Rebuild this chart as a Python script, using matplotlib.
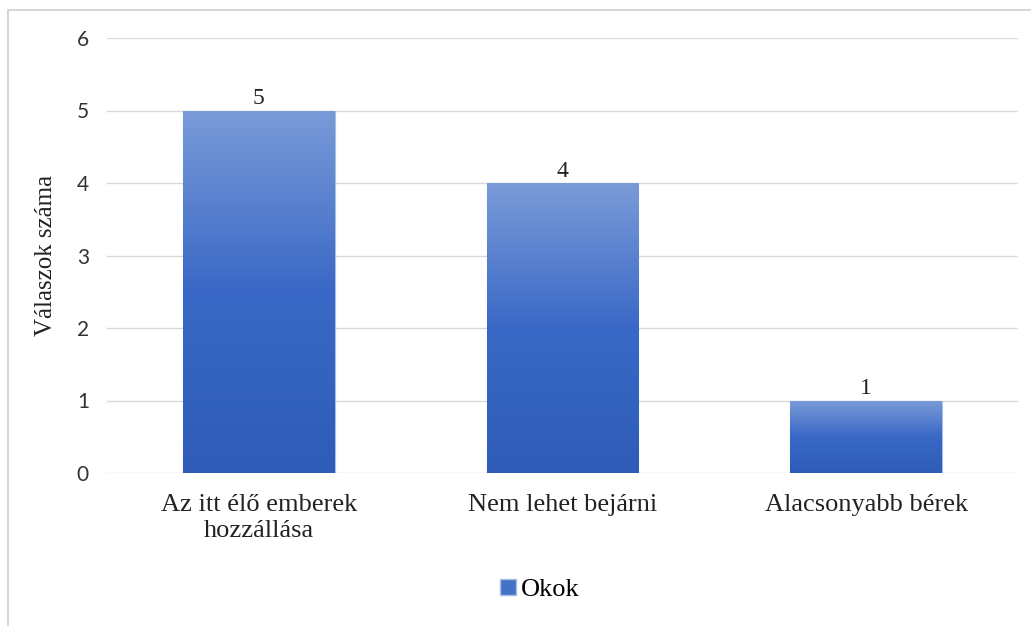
import matplotlib
matplotlib.use("Agg")
import matplotlib.pyplot as plt
import numpy as np
from matplotlib.patches import Rectangle, Patch
from matplotlib.colors import LinearSegmentedColormap
from matplotlib.font_manager import FontProperties

categories = ["Az itt élő emberek\nhozzállása", "Nem lehet bejárni", "Alacsonyabb bérek"]
values = [5, 4, 1]
series_name = "Okok"
yticks = [0, 1, 2, 3, 4, 5, 6]

serif = "Liberation Serif"

fig = plt.figure(figsize=(10.31, 6.26), dpi=100)
ax = fig.add_axes([107/1031, 1 - 473/626, 911/1031, 435/626])

cmap = LinearSegmentedColormap.from_list("g", ["#2E5CB8", "#3A68C6", "#7A9BD8"])
x = np.arange(len(categories))
bars = ax.bar(x, values, width=0.5, color="#4472C4", edgecolor="#A8BFE6", linewidth=0.8, zorder=2)
grad = np.linspace(0, 1, 256).reshape(-1, 1)
for b in bars:
    bx, by = b.get_x(), b.get_y()
    w, h = b.get_width(), b.get_height()
    im = ax.imshow(grad, extent=[bx, bx + w, by, by + h], origin="lower", aspect="auto",
                   cmap=cmap, zorder=2.5)
    im.set_clip_path(b)
    ax.text(bx + w / 2, h + 0.02, str(int(h)), ha="center", va="bottom",
            fontsize=17, family=serif, color="#222222", zorder=3)

ax.set_xlim(-0.5, len(categories) - 0.5)
ax.set_ylim(0, 6)
ax.set_yticks(yticks)
ax.set_yticklabels([str(t) for t in yticks], fontsize=15, family="Lato", color="#333333")
ax.set_xticks(x)
ax.set_xticklabels(categories, fontsize=19, family=serif, color="#222222", linespacing=1.25)
ax.tick_params(axis="both", length=0)
ax.tick_params(axis="y", pad=13)
ax.tick_params(axis="x", pad=15)
ax.grid(axis="y", color="#D9D9D9", linewidth=1, zorder=0)
ax.set_axisbelow(True)
for s in ax.spines.values():
    s.set_visible(False)
ax.set_ylabel("Válaszok száma", fontsize=18, family=serif, color="#222222", labelpad=14)

handle = Patch(facecolor="#4472C4", edgecolor="#A8BFE6")
fig.legend([handle], [series_name], loc="center", bbox_to_anchor=(540/1031, 1 - 590/626),
           frameon=False, prop=FontProperties(family=serif, size=19),
           handlelength=0.6, handleheight=0.6, handletextpad=0.2)

fig.patches.append(Rectangle((8/1031, -0.05), 1.2, 1 - 10/626 + 0.05, transform=fig.transFigure,
                             fill=False, edgecolor="#D0D0D0", linewidth=1.2))

fig.savefig("out.png", dpi=100)
